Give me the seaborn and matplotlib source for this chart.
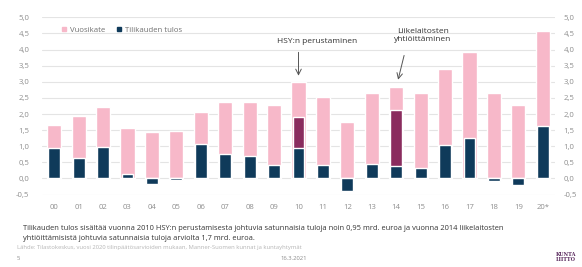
import numpy as np
import pandas as pd
import matplotlib
matplotlib.use("Agg")
import matplotlib.pyplot as plt
import seaborn as sns
from matplotlib.lines import Line2D

# data (mrd. euroa)
years = ["00", "01", "02", "03", "04", "05", "06", "07", "08", "09", "10",
         "11", "12", "13", "14", "15", "16", "17", "18", "19", "20*"]
vuosikate = [1.67, 1.94, 2.23, 1.57, 1.43, 1.47, 2.07, 2.36, 2.37, 2.27, 3.0,
             2.52, 1.76, 2.66, 2.84, 2.66, 3.39, 3.93, 2.65, 2.28, 4.59]
tilikauden_tulos = [0.94, 0.65, 0.99, 0.13, -0.16, -0.04, 1.06, 0.77, 0.70, 0.41, 1.92,
                    0.42, -0.38, 0.44, 2.13, 0.34, 1.05, 1.27, -0.08, -0.20, 1.64]
satunnaiset = [0, 0, 0, 0, 0, 0, 0, 0, 0, 0, 0.97,
               0, 0, 0, 1.73, 0, 0, 0, 0, 0, 0]

PINK = "#f7b8c9"
NAVY = "#0f3a5a"
MAROON = "#8a2c5e"
GRID = "#e4e4e4"
TICK = "#8f8f8f"

df = pd.DataFrame({"vuosi": years, "vuosikate": vuosikate,
                   "tulos": tilikauden_tulos, "satunnaiset": satunnaiset})
df["tulos_ilman"] = df["tulos"] - df["satunnaiset"]
df["tulos_erikois"] = np.where(df["satunnaiset"] > 0, df["tulos"], np.nan)

sns.set_style("white")
plt.rcParams["font.family"] = ["Open Sans", "DejaVu Sans"]

fig = plt.figure(figsize=(5.82, 2.67), dpi=100)
ax = fig.add_axes([42 / 582, 1 - 194.6 / 267, 513 / 582, 177.3 / 267])

sns.barplot(data=df, x="vuosi", y="vuosikate", color=PINK, width=0.58,
            saturation=1, ax=ax, zorder=2)
sns.barplot(data=df, x="vuosi", y="tulos_erikois", color=MAROON, width=0.48,
            saturation=1, ax=ax, zorder=3)
sns.barplot(data=df, x="vuosi", y="tulos_ilman", color=NAVY, width=0.48,
            saturation=1, ax=ax, zorder=4)

ax.set_xlim(-0.5, len(years) - 0.5)
ax.set_ylim(-0.5, 5.0)
yt = np.arange(-0.5, 5.01, 0.5)
ax.set_yticks(yt)
ax.set_yticklabels([f"{v:.1f}".replace(".", ",") for v in yt])
ax.grid(axis="y", color=GRID, lw=0.8, zorder=0)
ax.set_axisbelow(True)
for s in ax.spines.values():
    s.set_visible(False)
ax.set_xlabel("")
ax.set_ylabel("")
ax.tick_params(axis="both", length=0, labelsize=5.6, labelcolor=TICK)
ax.tick_params(axis="y", pad=9)
ax.tick_params(axis="x", pad=7)

ax2 = ax.twinx()
ax2.set_ylim(ax.get_ylim())
ax2.set_yticks(yt)
ax2.set_yticklabels([f"{v:.1f}".replace(".", ",") for v in yt])
ax2.tick_params(axis="y", length=0, labelsize=5.6, labelcolor=TICK, pad=6)
for s in ax2.spines.values():
    s.set_visible(False)

handles = [Line2D([], [], marker="s", ls="", color=PINK, markersize=2.6),
           Line2D([], [], marker="s", ls="", color=NAVY, markersize=2.6)]
leg = ax.legend(handles, ["Vuosikate", "Tilikauden tulos"], loc="upper left",
                ncol=2, frameon=False, fontsize=5.6, handletextpad=0.3,
                handlelength=1.0, columnspacing=1.2,
                bbox_to_anchor=(0.022, 0.99))
for t in leg.get_texts():
    t.set_color("#707070")

# annotations
ax.text(10.75, 4.25, "HSY:n perustaminen", ha="center", va="center",
        fontsize=6, color="#333333")
ax.annotate("", xy=(10, 3.1), xytext=(10, 4.0),
            arrowprops=dict(arrowstyle="->", color="#555555", lw=0.7))
ax.text(15.1, 4.43, "Liikelaitosten\nyhtiöittäminen", ha="center", va="center",
        fontsize=6, color="#333333", linespacing=1.1)
ax.annotate("", xy=(14.05, 2.98), xytext=(14.35, 3.9),
            arrowprops=dict(arrowstyle="->", color="#555555", lw=0.7))

fig.text(23 / 582, 1 - 229 / 267,
         "Tilikauden tulos sisältää vuonna 2010 HSY:n perustamisesta johtuvia satunnaisia tuloja noin 0,95 mrd. euroa ja vuonna 2014 liikelaitosten",
         fontsize=5.4, color="#333333", va="center")
fig.text(23 / 582, 1 - 238 / 267,
         "yhtiöittämisistä johtuvia satunnaisia tuloja arviolta 1,7 mrd. euroa.",
         fontsize=5.4, color="#333333", va="center")
fig.text(17 / 582, 1 - 248 / 267,
         "Lähde: Tilastokeskus, vuosi 2020 tilinpäätösarvioiden mukaan, Manner-Suomen kunnat ja kuntayhtymät",
         fontsize=4.2, color="#b5b5b5", va="center")
fig.text(17 / 582, 1 - 258 / 267, "5", fontsize=4.2, color="#8a8a8a", va="center")
fig.text(294 / 582, 1 - 258 / 267, "16.3.2021", fontsize=4.2, color="#8a8a8a",
         va="center", ha="center")
fig.text(566 / 582, 1 - 257 / 267, "KUNTA\nLIITTO", fontsize=3.6, color="#5a2a5e",
         va="center", ha="center", family="DejaVu Serif", linespacing=0.9,
         weight="bold")

fig.savefig("out.png", dpi=100, facecolor="white")
